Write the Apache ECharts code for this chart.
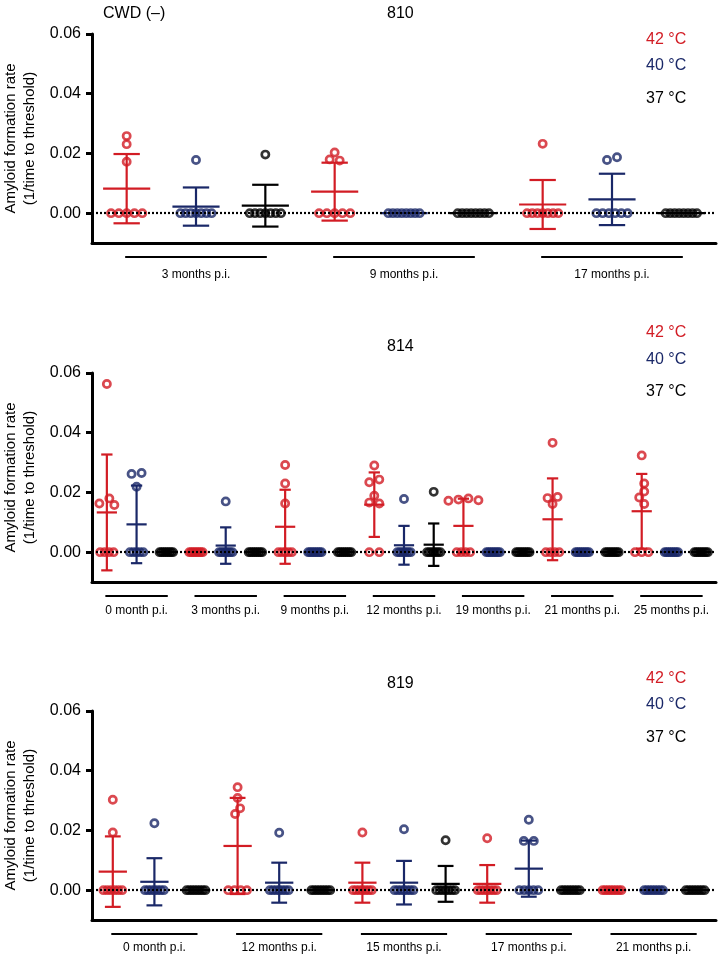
<!DOCTYPE html>
<html><head><meta charset="utf-8">
<script src="https://cdn.jsdelivr.net/npm/echarts@6/dist/echarts.min.js"></script>
<style>html,body{margin:0;padding:0;background:#fff}#c{width:718px;height:955px}</style>
</head><body><div id="c"></div>
<script>
// ---------- data ----------
const temps = ['42 °C', '40 °C', '37 °C'];
const tempColors = ['#d21c24', '#1a2868', '#000000'];
const yTicks = [0, 0.02, 0.04, 0.06];
const yTitle = 'Amyloid formation rate\n(1/time to threshold)';

const groups810 = ['3 months p.i.', '9 months p.i.', '17 months p.i.'];
const values810 = [
  [0.0231, 0.0258, 0.0172, 0, 0, 0, 0, 0],
  [0.0178, 0, 0, 0, 0, 0, 0, 0],
  [0.0196, 0, 0, 0, 0, 0, 0, 0],
  [0.0180, 0.0176, 0.0203, 0, 0, 0, 0, 0],
  [0, 0, 0, 0, 0, 0, 0, 0],
  [0, 0, 0, 0, 0, 0, 0, 0],
  [0.0232, 0, 0, 0, 0, 0, 0, 0],
  [0.0187, 0.0178, 0, 0, 0, 0, 0, 0],
  [0, 0, 0, 0, 0, 0, 0, 0]
];
const mean810 = [0.0082, 0.0022, 0.0025, 0.0072, 0, 0, 0.0029, 0.0046, 0];
const sd810 = [0.0116, 0.0064, 0.0070, 0.0097, 0, 0, 0.0082, 0.0086, 0];

const groups814 = ['0 month p.i.', '3 months p.i.', '9 months p.i.', '12 months p.i.', '19 months p.i.', '21 months p.i.', '25 months p.i.'];
const values814 = [
  [0.0563, 0.0163, 0.0158, 0.0180, 0, 0, 0, 0],
  [0.0262, 0.0265, 0.0219, 0, 0, 0, 0, 0],
  [0, 0, 0, 0, 0, 0, 0, 0],
  [0, 0, 0, 0, 0, 0, 0, 0],
  [0.0170, 0, 0, 0, 0, 0, 0, 0],
  [0, 0, 0, 0, 0, 0, 0, 0],
  [0.0292, 0.0230, 0.0163, 0, 0, 0, 0, 0],
  [0, 0, 0, 0, 0, 0, 0, 0],
  [0, 0, 0, 0, 0, 0, 0, 0],
  [0.0290, 0.0243, 0.0234, 0.0189, 0.0166, 0.0163, 0, 0],
  [0.0178, 0, 0, 0, 0, 0, 0, 0],
  [0.0202, 0, 0, 0, 0, 0, 0, 0],
  [0.0180, 0.0172, 0.0174, 0.0176, 0, 0, 0, 0],
  [0, 0, 0, 0, 0, 0, 0, 0],
  [0, 0, 0, 0, 0, 0, 0, 0],
  [0.0366, 0.0181, 0.0185, 0.0161, 0, 0, 0, 0],
  [0, 0, 0, 0, 0, 0, 0, 0],
  [0, 0, 0, 0, 0, 0, 0, 0],
  [0.0324, 0.0203, 0.0230, 0.0183, 0.0161, 0, 0, 0],
  [0, 0, 0, 0, 0, 0, 0, 0],
  [0, 0, 0, 0, 0, 0, 0, 0]
];
const mean814 = [0.0133, 0.0093, 0, 0, 0.0022, 0, 0.0085, 0, 0, 0.0159, 0.0023, 0.0025, 0.0088, 0, 0, 0.0110, 0, 0, 0.0137, 0, 0];
const sd814 = [0.0194, 0.0130, 0, 0, 0.0061, 0, 0.0124, 0, 0, 0.0108, 0.0065, 0.0071, 0.0091, 0, 0, 0.0137, 0, 0, 0.0125, 0, 0];

const groups819 = ['0 month p.i.', '12 months p.i.', '15 months p.i.', '17 months p.i.', '21 months p.i.'];
const values819 = [
  [0.0303, 0.0193, 0, 0, 0, 0, 0, 0],
  [0.0224, 0, 0, 0, 0, 0, 0, 0],
  [0, 0, 0, 0, 0, 0, 0, 0],
  [0.0309, 0.0345, 0.0274, 0.0255, 0, 0, 0, 0],
  [0.0192, 0, 0, 0, 0, 0, 0, 0],
  [0, 0, 0, 0, 0, 0, 0, 0],
  [0.0193, 0, 0, 0, 0, 0, 0, 0],
  [0.0204, 0, 0, 0, 0, 0, 0, 0],
  [0.0167, 0, 0, 0, 0, 0, 0, 0],
  [0.0174, 0, 0, 0, 0, 0, 0, 0],
  [0.0236, 0.0165, 0.0165, 0, 0, 0, 0, 0],
  [0, 0, 0, 0, 0, 0, 0, 0],
  [0, 0, 0, 0, 0, 0, 0, 0],
  [0, 0, 0, 0, 0, 0, 0, 0],
  [0, 0, 0, 0, 0, 0, 0, 0]
];
const mean819 = [0.0062, 0.0028, 0, 0.0148, 0.0025, 0, 0.0025, 0.0025, 0.0021, 0.0021, 0.0072, 0, 0, 0, 0];
const sd819 = [0.0118, 0.0079, 0, 0.0161, 0.0067, 0, 0.0067, 0.0073, 0.0060, 0.0063, 0.0094, 0, 0, 0, 0];

// ---------- layout ----------
const FONT = 'Liberation Sans';
const gridLeft = 92, gridWidth = 624, gridHeight = 209;
const yMin = -0.01, yMax = 0.06;
const panels = [
  {title: '810', groups: groups810, values: values810, mean: mean810, sd: sd810, top: 34, titleY: 12, legendY: [38, 64, 97], labelGap: 32},
  {title: '814', groups: groups814, values: values814, mean: mean814, sd: sd814, top: 373, titleY: 345, legendY: [331, 358, 390], labelGap: 29},
  {title: '819', groups: groups819, values: values819, mean: mean819, sd: sd819, top: 711, titleY: 682, legendY: [677, 703, 736], labelGap: 28}
];

// beeswarm-like horizontal spreading (pixel offsets)
function spread(vals, catW, pxPerUnit) {
  const D = 10, minD = 7.5, step = 5;
  const out = [];
  const nZero = vals.filter(v => v === 0).length;
  const zs = nZero > 1 ? Math.min(D, 0.45 * catW / (nZero - 1)) : 0;
  for (let k = 0; k < nZero; k++) out.push({v: 0, dx: (k - (nZero - 1) / 2) * zs});
  const nz = vals.filter(v => v !== 0).slice().sort((a, b) => b - a);
  const placed = [];
  nz.forEach(v => {
    const y = v * pxPerUnit;
    for (let j = 0; j < 50; j++) {
      const dx = j === 0 ? 0 : (j % 2 ? -1 : 1) * Math.ceil(j / 2) * step;
      if (placed.every(p => Math.hypot(p.dx - dx, p.y - y) >= minD)) { placed.push({v, y, dx}); break; }
    }
  });
  placed.sort((a, b) => b.y - a.y);
  let comp = [];
  const flush = () => {
    if (!comp.length) return;
    const mn = Math.min(...comp.map(p => p.dx)), mx = Math.max(...comp.map(p => p.dx));
    const sh = (mn + mx) / 2;
    comp.forEach(p => { p.dx -= sh; });
    comp = [];
  };
  placed.forEach((p, i) => {
    if (i > 0 && placed[i - 1].y - p.y >= D) flush();
    comp.push(p);
  });
  flush();
  return out.concat(placed);
}

const grid = [], xAxis = [], yAxis = [], series = [], graphic = [];
const pxPerUnit = gridHeight / (yMax - yMin);

panels.forEach((p, pi) => {
  const N = p.values.length;
  const catW = gridWidth / N;
  grid.push({left: gridLeft, top: p.top, width: gridWidth, height: gridHeight, containLabel: false, outerBoundsMode: 'none'});
  const cats = [];
  p.groups.forEach(g => temps.forEach(t => cats.push(g + ' ' + t)));
  xAxis.push({
    type: 'category', gridIndex: pi, data: cats, boundaryGap: true, position: 'bottom',
    axisLine: {onZero: false, lineStyle: {color: '#000', width: 3}},
    axisTick: {alignWithLabel: true, length: 9, lineStyle: {width: 3, color: '#000'}},
    axisLabel: {show: false}, splitLine: {show: false}
  });
  xAxis.push({type: 'value', gridIndex: pi, min: -0.5, max: N - 0.5, show: false, splitLine: {show: false}});
  yAxis.push({
    type: 'value', gridIndex: pi, min: yMin, max: yMax, position: 'left',
    name: yTitle, nameLocation: 'middle', nameGap: 53, nameRotate: 90,
    nameTextStyle: {fontSize: 15, lineHeight: 19, color: '#000', fontFamily: FONT},
    axisLine: {show: true, onZero: false, lineStyle: {color: '#000', width: 3}},
    axisTick: {show: true, customValues: yTicks, length: 6, lineStyle: {width: 3, color: '#000'}},
    axisLabel: {customValues: yTicks, formatter: v => v.toFixed(2), fontSize: 16, color: '#000', margin: 11, fontFamily: FONT},
    splitLine: {show: false}
  });
  const xIdx = 2 * pi + 1;

  temps.forEach((t, ti) => {
    const data = [];
    p.values.forEach((vals, ci) => {
      if (ci % 3 !== ti) return;
      spread(vals, catW, pxPerUnit).forEach(pt => data.push([ci + pt.dx / catW, pt.v]));
    });
    const s = {
      type: 'scatter', name: t, xAxisIndex: xIdx, yAxisIndex: pi, data,
      symbol: 'circle', symbolSize: 7.2,
      itemStyle: {color: 'rgba(255,255,255,0)', borderColor: tempColors[ti], borderWidth: 2.7},
      emphasis: {disabled: true}, silent: true, z: 3
    };
    if (ti === 0) {
      s.markLine = {
        silent: true, symbol: ['none', 'none'], label: {show: false},
        lineStyle: {type: [2, 2], width: 2.2, color: '#000'},
        data: [{yAxis: 0}], animation: false
      };
    }
    series.push(s);
  });

  const eb = p.mean.map((m, ci) => [ci, m, p.sd[ci], ci % 3]);
  series.push({
    type: 'custom', xAxisIndex: xIdx, yAxisIndex: pi, data: eb, silent: true, z: 4,
    encode: {x: 0, y: 1},
    renderItem: (params, api) => {
      const x = api.value(0), m = api.value(1), s = api.value(2), t = api.value(3);
      const c = api.coord([x, m]);
      const hi = api.coord([x, m + s]);
      const lo = api.coord([x, m - s]);
      const w = api.size([1, 0])[0];
      const style = {stroke: tempColors[t], lineWidth: 2.2, fill: null};
      const kids = [
        {type: 'line', shape: {x1: c[0] - 0.34 * w, y1: c[1], x2: c[0] + 0.34 * w, y2: c[1]}, style}
      ];
      if (s > 0) {
        kids.push({type: 'line', shape: {x1: c[0], y1: hi[1], x2: c[0], y2: lo[1]}, style});
        kids.push({type: 'line', shape: {x1: c[0] - 0.19 * w, y1: hi[1], x2: c[0] + 0.19 * w, y2: hi[1]}, style});
        kids.push({type: 'line', shape: {x1: c[0] - 0.19 * w, y1: lo[1], x2: c[0] + 0.19 * w, y2: lo[1]}, style});
      }
      return {type: 'group', children: kids};
    }
  });

  series.push({
    type: 'custom', xAxisIndex: xIdx, yAxisIndex: pi, silent: true, clip: false,
    data: p.groups.map((g, gi) => [gi * 3 + 1, yMin, gi]),
    encode: {x: 0, y: 1},
    renderItem: (params, api) => {
      const gi = api.value(2);
      const a = api.coord([gi * 3, yMin]);
      const b = api.coord([gi * 3 + 2, yMin]);
      const mid = (a[0] + b[0]) / 2;
      return {type: 'group', children: [
        {type: 'line', shape: {x1: a[0] - 1.5, y1: a[1] + 14, x2: b[0] + 1.5, y2: a[1] + 14}, style: {stroke: '#000', lineWidth: 2}},
        {type: 'text', x: mid, y: a[1] + p.labelGap, style: {text: p.groups[gi], textAlign: 'center', textVerticalAlign: 'middle', font: '12px "' + FONT + '"', fill: '#000'}}
      ]};
    }
  });

  graphic.push({type: 'text', left: 387, top: p.titleY - 6, style: {text: p.title, font: '16px "' + FONT + '"', fill: '#000'}});
  temps.forEach((t, ti) => {
    graphic.push({type: 'text', left: 646, top: p.legendY[ti] - 6, style: {text: t, font: '16px "' + FONT + '"', fill: tempColors[ti]}});
  });
});
graphic.push({type: 'text', left: 103, top: 6, style: {text: 'CWD (–)', font: '16px "' + FONT + '"', fill: '#000'}});

const chart = echarts.init(document.getElementById('c'), null, {renderer: 'canvas'});
chart.setOption({
  animation: false,
  backgroundColor: '#fff',
  textStyle: {fontFamily: FONT},
  grid, xAxis, yAxis, series, graphic
});
</script>
</body></html>
